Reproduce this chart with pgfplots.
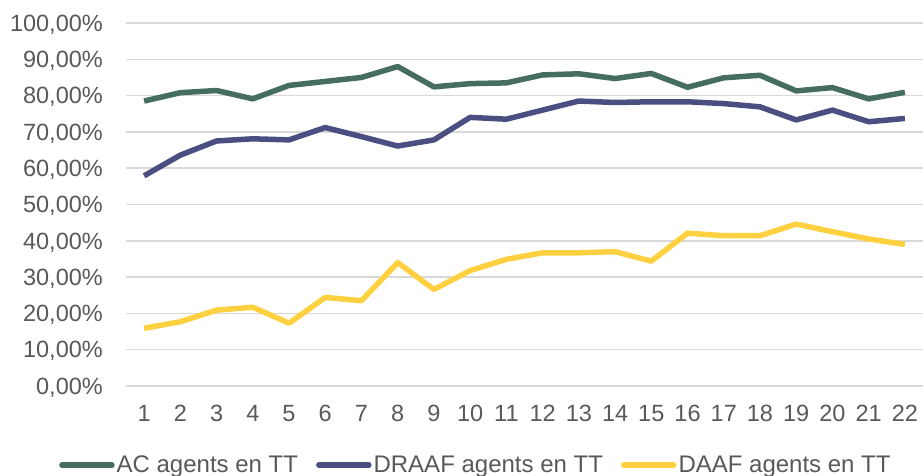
\documentclass[border=0pt]{standalone}
\usepackage{fontspec}
\setmainfont{Liberation Sans}
\usepackage{pgfplots}
\pgfplotsset{compat=1.18}
\definecolor{acgreen}{RGB}{70,110,96}
\definecolor{draafblue}{RGB}{74,78,128}
\definecolor{daafyellow}{RGB}{255,208,64}
\definecolor{txtgray}{RGB}{89,89,89}
\definecolor{gridgray}{RGB}{217,217,217}
\begin{document}
\begin{tikzpicture}
\path[use as bounding box] (-126pt,-90pt) rectangle (797pt,386pt);
\begin{axis}[
  at={(0pt,0pt)}, anchor=south west,
  scale only axis, width=797pt, height=363pt,
  xmin=0.5, xmax=22.5, ymin=0, ymax=100,
  axis line style={draw=none},
  major tick length=0pt,
  xtick={1,...,22},
  ytick={0,10,...,100},
  yticklabels={0{,}00\%,10{,}00\%,20{,}00\%,30{,}00\%,40{,}00\%,50{,}00\%,60{,}00\%,70{,}00\%,80{,}00\%,90{,}00\%,100{,}00\%},
  /pgf/number format/assume math mode=true,
  ymajorgrids, grid style={gridgray, line width=1.5pt},
  tick label style={font=\fontsize{23.5}{28}\selectfont, text=txtgray, inner sep=0pt, text depth=0pt},
  yticklabel style={anchor=east, xshift=-23pt},
  xticklabel style={anchor=center, yshift=-27pt},
  clip=false,
  legend style={at={(0.439,-0.218)}, anchor=center, draw=none, fill=none,
    legend columns=3, font=\fontsize{24}{28}\selectfont, text=txtgray,
    nodes={inner sep=2pt},
    /tikz/every even column/.append style={column sep=16pt}},
  legend image code/.code={\draw[#1, line cap=round] (0pt,0pt) -- (50pt,0pt);},
  every axis plot/.append style={line width=5.5pt, line join=round, no markers},
]
\addplot[acgreen] coordinates {(1,78.5)(2,80.8)(3,81.4)(4,79.1)(5,82.8)(6,83.9)(7,85.0)(8,88.0)(9,82.4)(10,83.3)(11,83.5)(12,85.7)(13,86.0)(14,84.7)(15,86.1)(16,82.3)(17,84.9)(18,85.6)(19,81.3)(20,82.2)(21,79.1)(22,80.9)};
\addlegendentry{AC agents en TT}
\addplot[draafblue] coordinates {(1,57.9)(2,63.6)(3,67.5)(4,68.1)(5,67.8)(6,71.2)(7,68.7)(8,66.1)(9,67.8)(10,74.0)(11,73.5)(12,76.0)(13,78.5)(14,78.1)(15,78.3)(16,78.3)(17,77.8)(18,76.9)(19,73.3)(20,76.0)(21,72.8)(22,73.7)};
\addlegendentry{DRAAF agents en TT}
\addplot[daafyellow] coordinates {(1,15.9)(2,17.7)(3,20.9)(4,21.7)(5,17.3)(6,24.4)(7,23.5)(8,34.0)(9,26.6)(10,31.8)(11,34.9)(12,36.7)(13,36.7)(14,37.0)(15,34.4)(16,42.1)(17,41.4)(18,41.4)(19,44.6)(20,42.5)(21,40.5)(22,39.0)};
\addlegendentry{DAAF agents en TT}
\end{axis}
\end{tikzpicture}
\end{document}
